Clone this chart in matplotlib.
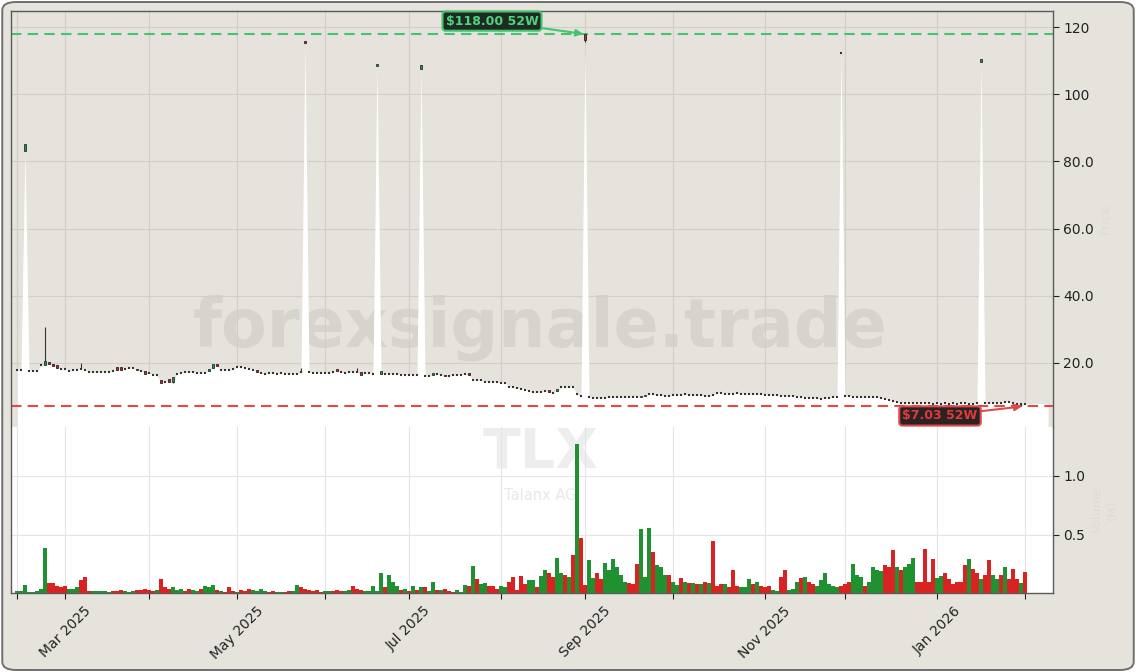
import numpy as np
import pandas as pd
import matplotlib
matplotlib.use("Agg")
import matplotlib.pyplot as plt
from matplotlib.patches import FancyBboxPatch
import matplotlib.ticker as mticker

# ---------------- data ----------------
dates = pd.bdate_range("2025-02-13", periods=253)

close = [
    17.9, 17.8, 85.3, 17.6, 17.5, 17.5, 19.3, 20.6, 19.6, 19.2,
    18.6, 18.2, 18.3, 17.5, 17.8, 18.0, 18.3, 17.9, 17.2, 17.3,
    17.2, 17.3, 17.4, 17.3, 17.5, 17.9, 18.0, 18.3, 18.5, 18.4,
    17.8, 17.7, 16.8, 16.9, 16.4, 16.3, 14.0, 14.3, 14.4, 15.8,
    16.8, 17.1, 17.2, 17.3, 17.2, 17.0, 16.9, 17.0, 18.2, 19.6,
    19.2, 17.9, 17.9, 17.9, 18.1, 18.7, 18.8, 18.6, 18.3, 18.0,
    17.3, 17.0, 16.6, 16.9, 16.9, 16.8, 16.9, 16.8, 16.7, 16.8,
    16.6, 17.2, 115.2, 17.2, 17.1, 17.0, 17.1, 17.0, 17.1, 17.4,
    17.6, 17.2, 17.1, 17.2, 17.2, 17.3, 16.5, 16.9, 16.9, 16.8,
    108.9, 17.6, 16.7, 16.6, 16.7, 16.6, 16.5, 16.5, 16.5, 16.4,
    16.5, 108.8, 16.0, 16.1, 17.0, 16.6, 16.3, 16.0, 16.1, 16.3,
    16.4, 16.5, 16.6, 16.4, 14.9, 14.9, 14.8, 14.4, 14.3, 14.2,
    14.3, 13.9, 14.1, 12.9, 12.7, 12.4, 12.2, 12.0, 11.7, 11.2,
    11.2, 11.4, 11.6, 11.2, 11.0, 12.2, 12.7, 12.8, 12.7, 12.8,
    10.6, 10.0, 116.1, 9.7, 9.6, 9.5, 9.4, 9.6, 9.7, 9.7,
    9.8, 9.7, 9.8, 9.8, 9.9, 9.9, 10.1, 10.3, 10.8, 10.6,
    10.4, 10.3, 10.2, 10.1, 10.4, 10.5, 10.5, 10.6, 10.4, 10.4,
    10.3, 10.3, 10.2, 10.1, 10.3, 11.1, 11.0, 10.8, 10.8, 10.8,
    10.9, 10.8, 10.8, 10.7, 10.7, 10.7, 10.6, 10.5, 10.5, 10.4,
    10.3, 10.2, 10.1, 10.1, 10.0, 9.9, 9.8, 9.6, 9.5, 9.4,
    9.4, 9.3, 9.4, 9.5, 9.8, 9.9, 112.3, 10.0, 10.0, 9.9,
    9.8, 9.8, 9.8, 9.7, 9.8, 9.7, 9.5, 9.3, 9.1, 8.6,
    8.3, 8.2, 8.1, 8.1, 8.0, 8.0, 8.0, 8.1, 8.0, 7.9,
    8.0, 7.9, 8.0, 7.9, 8.0, 7.9, 8.0, 8.0, 7.9, 7.9,
    8.0, 110.5, 8.1, 8.0, 8.0, 8.1, 8.2, 8.4, 8.4, 8.2,
    7.9, 7.9, 7.9,
]

# opens of candles with a visible body (others open at their close)
body_open = {2: 83.0, 7: 19.3, 8: 20.3, 9: 19.8, 10: 19.3, 25: 18.9, 26: 18.9,
             30: 18.2, 32: 17.5, 36: 15.0, 38: 15.2, 39: 14.3, 48: 17.6, 49: 18.6,
             50: 19.6, 60: 17.8, 72: 116.0, 80: 18.3, 86: 17.3, 90: 108.4, 91: 16.8,
             101: 107.5, 104: 16.3, 107: 16.3, 113: 17.1, 133: 11.8, 135: 11.6,
             142: 118.0, 156: 9.8, 157: 10.0, 241: 109.5}
wick_high = {7: 30.7, 16: 19.9, 71: 18.5, 85: 18.5, 142: 118.0}
wick_low = {39: 14.0, 142: 115.5, 251: 7.03}

# volume in millions
volume = [
    .02, .02, .07, .01, .01, .02, .04, .39, .09, .09,
    .06, .05, .06, .04, .04, .05, .11, .14, .02, .02,
    .02, .02, .02, .01, .02, .02, .03, .02, .01, .02,
    .03, .03, .04, .03, .02, .03, .12, .05, .04, .05,
    .03, .04, .02, .04, .03, .02, .04, .06, .05, .07,
    .03, .02, .01, .05, .02, .01, .03, .02, .04, .03,
    .02, .04, .02, .01, .02, .01, .01, .01, .02, .02,
    .07, .05, .04, .03, .02, .03, .01, .02, .02, .02,
    .03, .02, .02, .03, .06, .04, .03, .02, .02, .06,
    .02, .17, .05, .16, .10, .06, .03, .04, .02, .06,
    .03, .05, .05, .02, .10, .03, .03, .04, .02, .01,
    .03, .01, .07, .06, .23, .125, .08, .09, .06, .06,
    .04, .06, .05, .10, .14, .03, .15, .08, .11, .11,
    .05, .15, .20, .17, .14, .30, .17, .16, .14, .33,
    1.27, .47, .07, .28, .13, .17, .12, .26, .20, .29,
    .22, .16, .10, .09, .08, .25, .55, .14, .56, .35,
    .24, .22, .16, .16, .10, .07, .13, .10, .09, .09,
    .08, .08, .10, .09, .45, .06, .08, .08, .05, .20,
    .06, .05, .05, .12, .08, .10, .06, .05, .06, .03,
    .02, .14, .20, .03, .04, .10, .13, .14, .10, .08,
    .06, .11, .17, .08, .06, .05, .06, .08, .10, .25,
    .16, .14, .06, .10, .22, .20, .19, .24, .22, .37,
    .22, .20, .22, .25, .30, .10, .10, .38, .10, .29,
    .13, .15, .17, .12, .08, .10, .10, .24, .29, .21,
    .17, .12, .16, .28, .16, .12, .16, .22, .12, .21,
    .12, .09, .18,
]
vol_dir = (
    "ggggggggrr" "rrrgggrrrg" "ggggrrrggg" "rrrrrgrrrg" "ggrrggrggg"
    "rgrrrgrrrg" "gggrrggrrg" "grrrrrrggr" "rrggrrrggg" "ggrgggrgrg"
    "rgrggrgrrr" "gggrgrggrr" "rggrrrrrgg" "rggrrggrgr" "grrggrrggg"
    "gggrrrgggr" "gggrggrgrg" "rgrgrrrgrr" "rgggrgrrrg" "grrgggrgrr"
    "ggggggrrrg" "ggrggggrrr" "grgggrrrrr" "ggrrrrrrgr" "rgrrggrgrr"
    "rgr"
)

price_ticks = [20, 40, 60, 80, 100, 120]
vol_ticks = [0.5, 1.0]
high_52w = 118.00
low_52w = 7.03
ticker = "TLX"
company = "Talanx AG"
watermark = "forexsignale.trade"

# ---------------- styling ----------------
BG = "#e6e3dd"
GREEN_C = "#2f8a57"
RED_C = "#a83232"
VOL_G = "#1f9130"
VOL_R = "#d92222"
SPINE = "#5a5a5a"

W, H = 1136, 672
fig = plt.figure(figsize=(W / 100, H / 100), dpi=100)
fig.patch.set_facecolor("white")
fig.patches.append(FancyBboxPatch((0.002, 0.003), 0.996, 0.994,
                                  boxstyle="round,pad=0,rounding_size=0.012",
                                  transform=fig.transFigure, facecolor=BG,
                                  edgecolor="#6e6e6e", lw=1.4, zorder=-10))

L, R = 11 / W, 1053 / W
top_p, bot_p, bot_v = 10.7, 426.7, 593.3
ax_p = fig.add_axes([L, 1 - bot_p / H, R - L, (bot_p - top_p) / H])
ax_v = fig.add_axes([L, 1 - bot_v / H, R - L, (bot_v - bot_p) / H], sharex=ax_p)
ax_p.set_facecolor(BG)
ax_v.set_facecolor("white")

n = len(close)
x = np.arange(n)
c = np.array(close, dtype=float)
o = np.array([body_open.get(i, close[i]) for i in range(n)])
hi = np.array([wick_high.get(i, max(o[i], c[i])) for i in range(n)])
lo = np.array([wick_low.get(i, min(o[i], c[i])) for i in range(n)])

# white area below price
xf = np.r_[x, x[-1] + 5.75]
lf = np.r_[lo, lo[-1]]
ax_p.fill_between(xf, lf, 0, color="white", lw=0, zorder=1)

# candles
ax_p.vlines(x, lo, hi, color="#333333", lw=0.8, zorder=3)
for i in range(n):
    if c[i] > o[i]:
        ax_p.bar(i, c[i] - o[i], bottom=o[i], width=0.7, color=GREEN_C,
                 edgecolor="#1f3a2a", lw=0.6, zorder=4)
    elif c[i] < o[i]:
        ax_p.bar(i, o[i] - c[i], bottom=c[i], width=0.7, color=RED_C,
                 edgecolor="#3a1f1f", lw=0.6, zorder=4)
    else:
        ax_p.hlines(c[i], i - 0.35, i + 0.35, color="#333333", lw=1.5, zorder=4)

# 52W lines
ax_p.axhline(high_52w, color="#45c46e", ls=(0, (5, 3)), lw=1.5, zorder=2)
ax_p.axhline(low_52w, color="#e04a4a", ls=(0, (5, 3)), lw=1.5, zorder=2)

ax_p.annotate(r"\$%.2f 52W" % high_52w, xy=(141.5, high_52w), xytext=(118.75, 121.8),
              color="#4fd27f", fontsize=9, fontweight="bold", ha="center", va="center",
              bbox=dict(boxstyle="round,pad=0.25", fc="#1e2b22", ec="#45c46e", lw=1.5),
              arrowprops=dict(arrowstyle="-|>", color="#45c46e", lw=1.5,
                              shrinkA=0, shrinkB=0, mutation_scale=10), zorder=6)
ax_p.annotate(r"\$%.2f 52W" % low_52w, xy=(251.2, low_52w), xytext=(230.75, 4.2),
              color="#e03a3a", fontsize=9, fontweight="bold", ha="center", va="center",
              bbox=dict(boxstyle="round,pad=0.25", fc="#2b2222", ec="#e04a4a", lw=1.5),
              arrowprops=dict(arrowstyle="-|>", color="#e04a4a", lw=1.5,
                              shrinkA=0, shrinkB=0, mutation_scale=10), zorder=6)

# watermark
ax_p.text(0.508, 1 - (328 - top_p) / (bot_p - top_p), watermark, transform=ax_p.transAxes,
          fontsize=48, fontweight="bold", color="#d7d4ce", ha="center", va="center", zorder=0.5)
ax_v.text(0.508, 1 - (453 - bot_p) / (bot_v - bot_p), ticker, transform=ax_v.transAxes,
          fontsize=40, fontweight="bold", color="#eeeeee", ha="center", va="center", zorder=0.5)
ax_v.text(0.508, 1 - (495 - bot_p) / (bot_v - bot_p), company, transform=ax_v.transAxes,
          fontsize=10.5, color="#e8e8e8", ha="center", va="center", zorder=0.5)

# volume
vcol = [VOL_G if d == "g" else VOL_R for d in vol_dir]
ax_v.bar(x, volume, width=0.85, color=vcol, lw=0, zorder=3)

# axes limits & ticks
ax_p.set_xlim(-1.5, 259)
ax_p.set_ylim(1.0, 124.9)
ax_v.set_ylim(0, 1.42)

ax_p.yaxis.tick_right()
ax_p.set_yticks(price_ticks)
ax_p.yaxis.set_major_formatter(mticker.FuncFormatter(
    lambda v, p: f"{v:.0f}" if v >= 100 else f"{v:.1f}"))
ax_v.yaxis.tick_right()
ax_v.set_yticks(vol_ticks)
ax_v.yaxis.set_major_formatter(mticker.FormatStrFormatter("%.1f"))

months = pd.Series(x, index=dates).groupby([dates.year, dates.month]).first()
mpos = list(months.values)
mlabels = []
for (yr, mo), _ in months.items():
    mlabels.append(pd.Timestamp(yr, mo, 1).strftime("%b %Y") if mo % 2 == 1 else "")
ax_v.set_xticks(mpos)
ax_v.set_xticklabels(mlabels, rotation=45, ha="center")

for ax in (ax_p, ax_v):
    ax.tick_params(axis="both", labelsize=10, colors="#222222", length=4, width=0.8,
                   direction="out")
    ax.tick_params(axis="y", left=False, labelleft=False, right=True, labelright=True)
    for s in ax.spines.values():
        s.set_color(SPINE)
        s.set_linewidth(1.0)
ax_p.tick_params(axis="x", bottom=False, labelbottom=False)
ax_p.spines["bottom"].set_visible(False)
ax_v.spines["top"].set_visible(False)

ax_p.grid(True, color="#d2cfc9", lw=0.8, zorder=0)
ax_v.grid(True, color="#e4e4e4", lw=0.8, zorder=0)
ax_p.set_axisbelow(True)
ax_v.set_axisbelow(True)

ax_p.yaxis.set_label_position("right")
ax_p.set_ylabel("Price", color="#dedbd5", fontsize=9, labelpad=3)
ax_v.yaxis.set_label_position("right")
ax_v.set_ylabel("Volume\n(M)", color="#dedbd5", fontsize=9, labelpad=4)

fig.savefig("out.png", dpi=100, facecolor=fig.get_facecolor())
